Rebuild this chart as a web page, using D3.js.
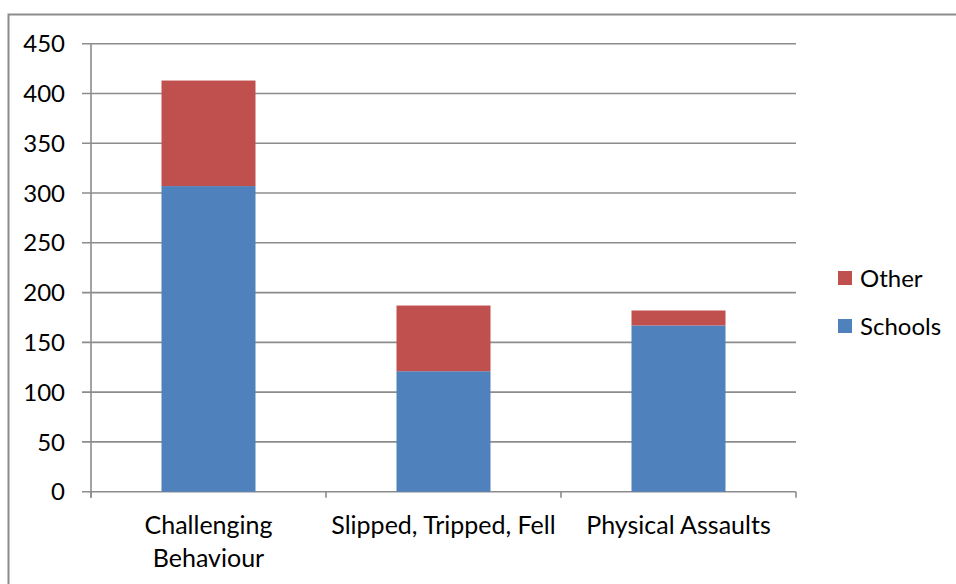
<!DOCTYPE html>
<html>
<head>
<meta charset="utf-8">
<script src="https://cdnjs.cloudflare.com/ajax/libs/d3/7.8.5/d3.min.js"></script>
<style>
  html, body { margin: 0; padding: 0; background: #ffffff; overflow: hidden; }
  svg { display: block; }
  text { font-family: Lato, "Open Sans", sans-serif; fill: #000000; }
</style>
</head>
<body>
<svg id="chart" width="956" height="584"></svg>
<script>
// chart data
var categories = [["Challenging", "Behaviour"], ["Slipped, Tripped, Fell"], ["Physical Assaults"]];
var schools = [307, 121, 167];
var other = [106, 66, 15];
var seriesNames = ["Schools", "Other"];
var seriesColors = ["#4F81BD", "#C0504D"];
var yTicks = [0, 50, 100, 150, 200, 250, 300, 350, 400, 450];

var svg = d3.select("#chart");
var plotLeft = 91, plotRight = 796, plotTop = 43.7, plotBottom = 491.7;
var gridColor = "#8c8c8c";
var fontSize = "24px";

// outer frame, only left and top edges are visible
svg.append("rect")
    .attr("x", 8.5).attr("y", 14.5)
    .attr("width", 1000).attr("height", 1000)
    .attr("fill", "none")
    .attr("stroke", "#8c8c8c")
    .attr("stroke-width", 2);

var x = d3.scaleBand()
    .domain(d3.range(categories.length))
    .range([plotLeft, plotRight])
    .paddingInner(0.6)
    .paddingOuter(0.3);

var xBand = d3.scaleBand()
    .domain(d3.range(categories.length))
    .range([plotLeft, plotRight]);

var y = d3.scaleLinear().domain([0, 450]).range([plotBottom, plotTop]);

// horizontal grid with left ticks
svg.append("g").selectAll("line")
    .data(yTicks)
    .enter().append("line")
    .attr("x1", plotLeft - 9).attr("x2", plotRight)
    .attr("y1", function(d) { return y(d); })
    .attr("y2", function(d) { return y(d); })
    .attr("stroke", gridColor)
    .attr("stroke-width", 1.6);

svg.append("g").selectAll("text")
    .data(yTicks)
    .enter().append("text")
    .attr("x", 65)
    .attr("y", function(d) { return y(d); })
    .attr("dy", "0.36em")
    .attr("text-anchor", "end")
    .style("font-size", fontSize)
    .text(function(d) { return d; });

// stacked bars
var stack = d3.stack().keys([0, 1]).value(function(d, k) { return k == 0 ? schools[d] : other[d]; });
var layers = stack(d3.range(categories.length));

svg.append("g").selectAll("g")
    .data(layers)
    .enter().append("g")
    .attr("fill", function(d, i) { return seriesColors[i]; })
    .selectAll("rect")
    .data(function(d) { return d; })
    .enter().append("rect")
    .attr("x", function(d, i) { return x(i); })
    .attr("width", x.bandwidth())
    .attr("y", function(d) { return y(d[1]); })
    .attr("height", function(d) { return y(d[0]) - y(d[1]); });

// axes lines
svg.append("line")
    .attr("x1", plotLeft).attr("x2", plotLeft)
    .attr("y1", plotTop).attr("y2", plotBottom + 6)
    .attr("stroke", gridColor).attr("stroke-width", 1.6);

var catTicks = d3.range(categories.length + 1).map(function(i) {
    return i < categories.length ? xBand(i) : xBand(i - 1) + xBand.bandwidth();
});
svg.append("g").selectAll("line")
    .data(catTicks)
    .enter().append("line")
    .attr("x1", function(d) { return d; }).attr("x2", function(d) { return d; })
    .attr("y1", plotBottom).attr("y2", plotBottom + 6)
    .attr("stroke", gridColor).attr("stroke-width", 1.6);

// category labels
var catLabels = svg.append("g").selectAll("text")
    .data(categories)
    .enter().append("text")
    .attr("text-anchor", "middle")
    .style("font-size", "25px")
    .attr("x", function(d, i) { return xBand(i) + xBand.bandwidth() / 2; })
    .attr("y", 534);
catLabels.selectAll("tspan")
    .data(function(d) { return d; })
    .enter().append("tspan")
    .attr("x", function() { return d3.select(this.parentNode).attr("x"); })
    .attr("dy", function(d, i) { return i == 0 ? 0 : 33; })
    .text(function(d) { return d; });

// legend, Other listed first
var legendOrder = [1, 0];
var legend = svg.append("g").selectAll("g")
    .data(legendOrder)
    .enter().append("g")
    .attr("transform", function(d, i) { return "translate(838," + (271 + i * 48) + ")"; });
legend.append("rect")
    .attr("width", 14).attr("height", 14)
    .attr("fill", function(d) { return seriesColors[d]; });
legend.append("text")
    .attr("x", 22).attr("y", 7)
    .attr("dy", "0.36em")
    .style("font-size", fontSize)
    .text(function(d) { return seriesNames[d]; });
</script>
</body>
</html>
